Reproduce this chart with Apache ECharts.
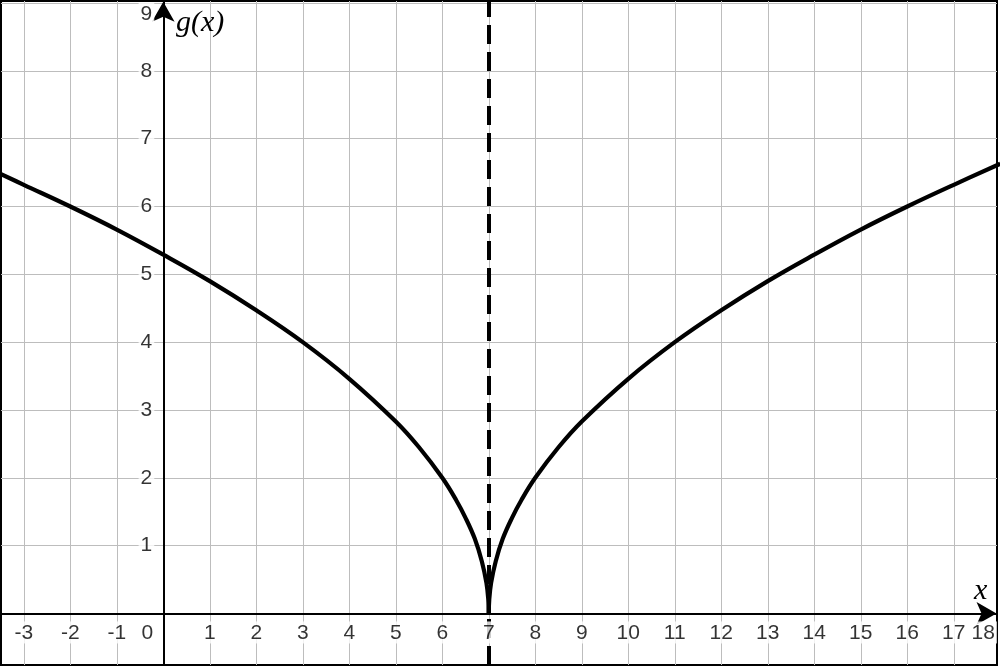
<!DOCTYPE html>
<html><head><meta charset="utf-8">
<script src="https://cdn.jsdelivr.net/npm/echarts@6/dist/echarts.min.js"></script>
<style>html,body{margin:0;padding:0;background:#fff}#c{width:1000px;height:667px}</style>
</head><body><div id="c"></div>
<script>
const xTicks = [-3,-2,-1,0,1,2,3,4,5,6,7,8,9,10,11,12,13,14,15,16,17,18];
const xTickLabels = ["-3","-2","-1","0","1","2","3","4","5","6","7","8","9","10","11","12","13","14","15","16","17","18"];
const yTicks = [1,2,3,4,5,6,7,8,9];
const yTickLabels = ["1","2","3","4","5","6","7","8","9"];
const asymptoteX = 7;
const leftX = [-3.5,-3,-2,-1,0,1,2,3,4,5,5.5,6,6.3,6.5,6.7,6.85,6.95,6.99,7];
const leftY = [6.48,6.32,6.0,5.66,5.29,4.9,4.47,4.0,3.46,2.83,2.45,2.0,1.67,1.41,1.1,0.77,0.45,0.2,0];
const rightX = [7,7.01,7.05,7.15,7.3,7.5,7.7,8,8.5,9,10,11,12,13,14,15,16,17,18];
const rightY = [0,0.2,0.45,0.77,1.1,1.41,1.67,2.0,2.45,2.83,3.46,4.0,4.47,4.9,5.29,5.66,6.0,6.32,6.63];

const X_MIN = -3.49, X_MAX = 17.93, Y_MIN = -0.76, Y_MAX = 9.03;
const chart = echarts.init(document.getElementById('c'));
const font = '"Liberation Sans", Arial, sans-serif';
const serif = '"Liberation Serif", "Times New Roman", serif';

const gridLines = xTicks.filter(v => v !== 0 && v > X_MIN && v < X_MAX).map(v => ({xAxis: v}))
  .concat(yTicks.filter(v => v < Y_MAX).map(v => ({yAxis: v})));

chart.setOption({
  animation: false,
  grid: {left: 1, right: 3, top: 1, bottom: 2, show: true, borderColor: '#000', borderWidth: 2, backgroundColor: '#fff'},
  xAxis: {type: 'value', min: X_MIN, max: X_MAX, axisLine: {show: false}, axisTick: {show: false}, axisLabel: {show: false}, splitLine: {show: false}},
  yAxis: {type: 'value', min: Y_MIN, max: Y_MAX, axisLine: {show: false}, axisTick: {show: false}, axisLabel: {show: false}, splitLine: {show: false}},
  series: [
    {type: 'line', z: 1, silent: true, data: [[0, 0]], symbol: 'none', lineStyle: {opacity: 0},
     markLine: {silent: true, symbol: ['none', 'none'], label: {show: false}, lineStyle: {color: '#bdbdbd', width: 1, type: 'solid'}, data: gridLines}},
    {type: 'line', z: 5, data: leftX.map((x, i) => [x, leftY[i]]), symbol: 'none', smooth: 0.4, clip: true,
     lineStyle: {color: '#000', width: 4.2}},
    {type: 'line', z: 5, data: rightX.map((x, i) => [x, rightY[i]]), symbol: 'none', smooth: 0.4, clip: true,
     lineStyle: {color: '#000', width: 4.2}},
    {type: 'line', z: 4, silent: true, data: [[0, 0]], symbol: 'none', lineStyle: {opacity: 0},
     markLine: {silent: true, symbol: ['none', 'none'], label: {show: false}, lineStyle: {color: '#000', width: 4, type: [19, 8]},
       data: [[{coord: [asymptoteX, Y_MIN]}, {coord: [asymptoteX, Y_MAX]}]]}},
    {type: 'line', z: 6, silent: true, data: [[0, 0]], symbol: 'none', lineStyle: {opacity: 0},
     markLine: {silent: true, symbol: ['none', 'arrow'], symbolSize: [17, 20], label: {show: false}, lineStyle: {color: '#000', width: 2, type: 'solid'},
       data: [[{coord: [0, Y_MIN]}, {coord: [0, Y_MAX - 0.01]}]]}},
    {type: 'line', z: 6, silent: true, data: [[0, 0]], symbol: 'none', lineStyle: {opacity: 0},
     markLine: {silent: true, symbol: ['none', 'arrow'], symbolSize: [17, 20], label: {show: false}, lineStyle: {color: '#000', width: 2, type: 'solid'},
       data: [[{coord: [X_MIN, 0]}, {coord: [X_MAX - 0.01, 0]}]]}},
    {type: 'scatter', z: 7, silent: true, clip: false, symbolSize: 0,
     data: xTicks.map((v, i) => ({value: [v, 0], label: {formatter: xTickLabels[i], offset: v === 0 ? [-16, 0] : (v === 18 ? [-17, 0] : [0, 0])}})),
     label: {show: true, position: 'bottom', distance: 8, color: '#000', fontSize: 21, fontFamily: font, backgroundColor: '#fff', padding: [1, 2, 0, 2]}},
    {type: 'scatter', z: 7, silent: true, clip: false, symbolSize: 0,
     data: yTicks.map((v, i) => ({value: [0, v], label: {formatter: yTickLabels[i], offset: v === 9 ? [0, 11] : [0, 0]}})),
     label: {show: true, position: 'left', distance: 9, color: '#000', fontSize: 21, fontFamily: font, backgroundColor: '#fff', padding: [1, 2, 0, 2]}}
  ],
  graphic: [
    {type: 'text', left: 176, top: 8, z: 100, style: {text: 'g(x)', font: 'italic 30px ' + serif, fill: '#000'}},
    {type: 'text', left: 974, top: 576, z: 100, style: {text: 'x', font: 'italic 30px ' + serif, fill: '#000'}}
  ]
});
</script></body></html>
